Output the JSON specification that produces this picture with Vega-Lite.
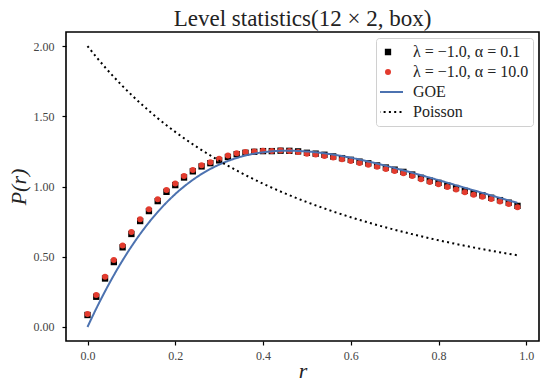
{
  "$schema": "https://vega.github.io/schema/vega-lite/v6.json",
  "width": 473,
  "height": 309,
  "autosize": {"type": "none"},
  "padding": {"left": 66, "top": 32, "right": 1, "bottom": 40},
  "background": "white",
  "title": {"text": "Level statistics(12 × 2, box)", "font": "Liberation Serif", "fontSize": 23, "fontWeight": "normal", "color": "#222", "anchor": "middle", "offset": 1},
  "config": {
    "view": {"stroke": "black", "strokeWidth": 1.6},
    "axis": {"domain": false, "grid": false, "tickColor": "black", "tickSize": 4, "tickWidth": 1.2, "labelFont": "Liberation Serif", "labelFontSize": 12, "labelColor": "#444", "titleFont": "Liberation Serif", "titleFontSize": 22, "titleFontStyle": "italic", "titleFontWeight": "normal", "titleColor": "#222"},
    "legend": {"orient": "top-right", "offset": 6, "title": null, "labelFont": "Liberation Serif", "labelFontSize": 16, "labelColor": "#222", "labelOffset": 17, "clipHeight": 20, "rowPadding": 0, "padding": 4, "strokeColor": "#d0d0d0", "fillColor": "white", "cornerRadius": 3, "symbolStrokeWidth": 2, "symbolOpacity": 1}
  },
  "data": {"values": [
    {"s": "k1", "r": 0.00, "p": 0.085}, {"s": "k1", "r": 0.02, "p": 0.215}, {"s": "k1", "r": 0.04, "p": 0.345}, {"s": "k1", "r": 0.06, "p": 0.462}, {"s": "k1", "r": 0.08, "p": 0.567},
    {"s": "k1", "r": 0.10, "p": 0.662}, {"s": "k1", "r": 0.12, "p": 0.754}, {"s": "k1", "r": 0.14, "p": 0.825}, {"s": "k1", "r": 0.16, "p": 0.896}, {"s": "k1", "r": 0.18, "p": 0.962},
    {"s": "k1", "r": 0.20, "p": 1.010}, {"s": "k1", "r": 0.22, "p": 1.064}, {"s": "k1", "r": 0.24, "p": 1.108}, {"s": "k1", "r": 0.26, "p": 1.143}, {"s": "k1", "r": 0.28, "p": 1.166},
    {"s": "k1", "r": 0.30, "p": 1.186}, {"s": "k1", "r": 0.32, "p": 1.210}, {"s": "k1", "r": 0.34, "p": 1.230}, {"s": "k1", "r": 0.36, "p": 1.240}, {"s": "k1", "r": 0.38, "p": 1.247},
    {"s": "k1", "r": 0.40, "p": 1.252}, {"s": "k1", "r": 0.42, "p": 1.252}, {"s": "k1", "r": 0.44, "p": 1.255}, {"s": "k1", "r": 0.46, "p": 1.254}, {"s": "k1", "r": 0.48, "p": 1.250},
    {"s": "k1", "r": 0.50, "p": 1.240}, {"s": "k1", "r": 0.52, "p": 1.234}, {"s": "k1", "r": 0.54, "p": 1.226}, {"s": "k1", "r": 0.56, "p": 1.214}, {"s": "k1", "r": 0.58, "p": 1.202},
    {"s": "k1", "r": 0.60, "p": 1.190}, {"s": "k1", "r": 0.62, "p": 1.177}, {"s": "k1", "r": 0.64, "p": 1.165}, {"s": "k1", "r": 0.66, "p": 1.150}, {"s": "k1", "r": 0.68, "p": 1.135},
    {"s": "k1", "r": 0.70, "p": 1.120}, {"s": "k1", "r": 0.72, "p": 1.104}, {"s": "k1", "r": 0.74, "p": 1.085}, {"s": "k1", "r": 0.76, "p": 1.062}, {"s": "k1", "r": 0.78, "p": 1.042},
    {"s": "k1", "r": 0.80, "p": 1.026}, {"s": "k1", "r": 0.82, "p": 1.006}, {"s": "k1", "r": 0.84, "p": 0.989}, {"s": "k1", "r": 0.86, "p": 0.969}, {"s": "k1", "r": 0.88, "p": 0.952},
    {"s": "k1", "r": 0.90, "p": 0.937}, {"s": "k1", "r": 0.92, "p": 0.920}, {"s": "k1", "r": 0.94, "p": 0.903}, {"s": "k1", "r": 0.96, "p": 0.885}, {"s": "k1", "r": 0.98, "p": 0.862},
    {"s": "k2", "r": 0.00, "p": 0.093}, {"s": "k2", "r": 0.02, "p": 0.228}, {"s": "k2", "r": 0.04, "p": 0.358}, {"s": "k2", "r": 0.06, "p": 0.477}, {"s": "k2", "r": 0.08, "p": 0.580},
    {"s": "k2", "r": 0.10, "p": 0.676}, {"s": "k2", "r": 0.12, "p": 0.767}, {"s": "k2", "r": 0.14, "p": 0.838}, {"s": "k2", "r": 0.16, "p": 0.909}, {"s": "k2", "r": 0.18, "p": 0.975},
    {"s": "k2", "r": 0.20, "p": 1.022}, {"s": "k2", "r": 0.22, "p": 1.075}, {"s": "k2", "r": 0.24, "p": 1.118}, {"s": "k2", "r": 0.26, "p": 1.151}, {"s": "k2", "r": 0.28, "p": 1.172},
    {"s": "k2", "r": 0.30, "p": 1.198}, {"s": "k2", "r": 0.32, "p": 1.220}, {"s": "k2", "r": 0.34, "p": 1.237}, {"s": "k2", "r": 0.36, "p": 1.245}, {"s": "k2", "r": 0.38, "p": 1.250},
    {"s": "k2", "r": 0.40, "p": 1.255}, {"s": "k2", "r": 0.42, "p": 1.252}, {"s": "k2", "r": 0.44, "p": 1.256}, {"s": "k2", "r": 0.46, "p": 1.252}, {"s": "k2", "r": 0.48, "p": 1.246},
    {"s": "k2", "r": 0.50, "p": 1.234}, {"s": "k2", "r": 0.52, "p": 1.227}, {"s": "k2", "r": 0.54, "p": 1.218}, {"s": "k2", "r": 0.56, "p": 1.206}, {"s": "k2", "r": 0.58, "p": 1.194},
    {"s": "k2", "r": 0.60, "p": 1.182}, {"s": "k2", "r": 0.62, "p": 1.168}, {"s": "k2", "r": 0.64, "p": 1.155}, {"s": "k2", "r": 0.66, "p": 1.141}, {"s": "k2", "r": 0.68, "p": 1.125},
    {"s": "k2", "r": 0.70, "p": 1.111}, {"s": "k2", "r": 0.72, "p": 1.094}, {"s": "k2", "r": 0.74, "p": 1.075}, {"s": "k2", "r": 0.76, "p": 1.052}, {"s": "k2", "r": 0.78, "p": 1.032},
    {"s": "k2", "r": 0.80, "p": 1.016}, {"s": "k2", "r": 0.82, "p": 0.996}, {"s": "k2", "r": 0.84, "p": 0.979}, {"s": "k2", "r": 0.86, "p": 0.959}, {"s": "k2", "r": 0.88, "p": 0.942},
    {"s": "k2", "r": 0.90, "p": 0.927}, {"s": "k2", "r": 0.92, "p": 0.911}, {"s": "k2", "r": 0.94, "p": 0.894}, {"s": "k2", "r": 0.96, "p": 0.876}, {"s": "k2", "r": 0.98, "p": 0.853},
    {"s": "GOE", "r": 0.00, "p": 0.0}, {"s": "GOE", "r": 0.02, "p": 0.1309}, {"s": "GOE", "r": 0.04, "p": 0.2536}, {"s": "GOE", "r": 0.06, "p": 0.3680}, {"s": "GOE", "r": 0.08, "p": 0.4741},
    {"s": "GOE", "r": 0.10, "p": 0.5720}, {"s": "GOE", "r": 0.12, "p": 0.6619}, {"s": "GOE", "r": 0.14, "p": 0.7440}, {"s": "GOE", "r": 0.16, "p": 0.8185}, {"s": "GOE", "r": 0.18, "p": 0.8858},
    {"s": "GOE", "r": 0.20, "p": 0.9461}, {"s": "GOE", "r": 0.25, "p": 1.0688}, {"s": "GOE", "r": 0.30, "p": 1.1557}, {"s": "GOE", "r": 0.35, "p": 1.2122}, {"s": "GOE", "r": 0.40, "p": 1.2436},
    {"s": "GOE", "r": 0.45, "p": 1.2547}, {"s": "GOE", "r": 0.50, "p": 1.2496}, {"s": "GOE", "r": 0.55, "p": 1.2320}, {"s": "GOE", "r": 0.60, "p": 1.2049}, {"s": "GOE", "r": 0.65, "p": 1.1708},
    {"s": "GOE", "r": 0.70, "p": 1.1317}, {"s": "GOE", "r": 0.75, "p": 1.0894}, {"s": "GOE", "r": 0.80, "p": 1.0452}, {"s": "GOE", "r": 0.85, "p": 1.0000}, {"s": "GOE", "r": 0.90, "p": 0.9547},
    {"s": "GOE", "r": 0.95, "p": 0.9098}, {"s": "GOE", "r": 0.98, "p": 0.8834},
    {"s": "Poisson", "r": 0.00, "p": 2.0}, {"s": "Poisson", "r": 0.02, "p": 1.9223}, {"s": "Poisson", "r": 0.04, "p": 1.8491}, {"s": "Poisson", "r": 0.06, "p": 1.7800}, {"s": "Poisson", "r": 0.08, "p": 1.7147},
    {"s": "Poisson", "r": 0.10, "p": 1.6529}, {"s": "Poisson", "r": 0.12, "p": 1.5944}, {"s": "Poisson", "r": 0.14, "p": 1.5389}, {"s": "Poisson", "r": 0.16, "p": 1.4863}, {"s": "Poisson", "r": 0.18, "p": 1.4364},
    {"s": "Poisson", "r": 0.20, "p": 1.3889}, {"s": "Poisson", "r": 0.25, "p": 1.2800}, {"s": "Poisson", "r": 0.30, "p": 1.1834}, {"s": "Poisson", "r": 0.35, "p": 1.0974}, {"s": "Poisson", "r": 0.40, "p": 1.0204},
    {"s": "Poisson", "r": 0.45, "p": 0.9512}, {"s": "Poisson", "r": 0.50, "p": 0.8889}, {"s": "Poisson", "r": 0.55, "p": 0.8325}, {"s": "Poisson", "r": 0.60, "p": 0.7813}, {"s": "Poisson", "r": 0.65, "p": 0.7346},
    {"s": "Poisson", "r": 0.70, "p": 0.6920}, {"s": "Poisson", "r": 0.75, "p": 0.6531}, {"s": "Poisson", "r": 0.80, "p": 0.6173}, {"s": "Poisson", "r": 0.85, "p": 0.5844}, {"s": "Poisson", "r": 0.90, "p": 0.5540},
    {"s": "Poisson", "r": 0.95, "p": 0.5260}, {"s": "Poisson", "r": 0.98, "p": 0.5102}
  ]},
  "layer": [
    {
      "transform": [{"filter": "datum.s == 'k1' || datum.s == 'k2'"}],
      "mark": {"type": "point", "filled": true, "opacity": 1, "strokeWidth": 0},
      "encoding": {
        "x": {"field": "r", "type": "quantitative", "scale": {"domain": [-0.049, 1.029], "nice": false, "zero": false},
              "axis": {"values": [0, 0.2, 0.4, 0.6, 0.8, 1.0], "format": ".1f", "title": "r", "labelPadding": 5, "titlePadding": -1}},
        "y": {"field": "p", "type": "quantitative", "scale": {"domain": [-0.1, 2.1], "nice": false, "zero": false},
              "axis": {"values": [0, 0.25, 0.5, 0.75, 1.0, 1.25, 1.5, 1.75, 2.0], "format": ".2f", "title": "P(r)", "labelPadding": 8, "titlePadding": 3}},
        "color": {"field": "s", "type": "nominal",
                  "scale": {"domain": ["k1", "k2", "GOE", "Poisson"], "range": ["black", "#e33b2e", "#4c72b0", "black"]},
                  "legend": {"labelExpr": "datum.value == 'k1' ? 'λ = −1.0, α = 0.1' : datum.value == 'k2' ? 'λ = −1.0, α = 10.0' : datum.value",
                             "encode": {"symbols": {"update": {"strokeWidth": {"signal": "datum.index >= 2 ? 2 : 0"}}}}}},
        "shape": {"field": "s", "type": "nominal", "scale": {"domain": ["k1", "k2", "GOE", "Poisson"], "range": ["square", "circle", "stroke", "stroke"]},
                  "legend": {"labelExpr": "datum.value == 'k1' ? 'λ = −1.0, α = 0.1' : datum.value == 'k2' ? 'λ = −1.0, α = 10.0' : datum.value"}},
        "size": {"field": "s", "type": "nominal", "scale": {"type": "ordinal", "domain": ["k1", "k2", "GOE", "Poisson"], "range": [40, 36, 900, 900]},
                  "legend": {"labelExpr": "datum.value == 'k1' ? 'λ = −1.0, α = 0.1' : datum.value == 'k2' ? 'λ = −1.0, α = 10.0' : datum.value"}}
      }
    },
    {
      "transform": [{"filter": "datum.s == 'GOE' || datum.s == 'Poisson'"}],
      "mark": {"type": "line", "strokeWidth": 2, "interpolate": "monotone"},
      "encoding": {
        "x": {"field": "r", "type": "quantitative"},
        "y": {"field": "p", "type": "quantitative"},
        "color": {"field": "s", "type": "nominal"},
        "strokeDash": {"field": "s", "type": "nominal", "scale": {"domain": ["k1", "k2", "GOE", "Poisson"], "range": [[1, 0], [1, 0], [1, 0], [2, 3.3]]},
                  "legend": {"labelExpr": "datum.value == 'k1' ? 'λ = −1.0, α = 0.1' : datum.value == 'k2' ? 'λ = −1.0, α = 10.0' : datum.value"}}
      }
    }
  ]
}
